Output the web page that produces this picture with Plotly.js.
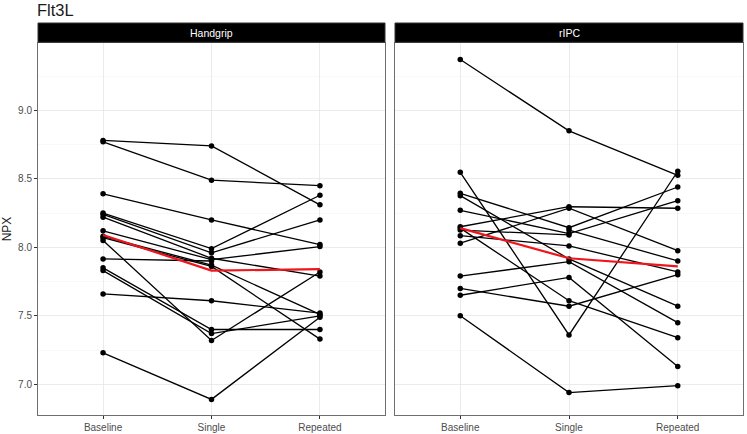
<!DOCTYPE html>
<html>
<head>
<meta charset="utf-8">
<script src="https://cdn.plot.ly/plotly-3.0.1.min.js"></script>
<style>
  html, body { margin: 0; padding: 0; background: #fff; }
  #chart { width: 747px; height: 434px; }
</style>
</head>
<body>
<div id="chart"></div>
<script>
const timepoints = ["Baseline", "Single", "Repeated"];
const panelNames = ["Handgrip", "rIPC"];

// one entry per subject
const handgripBaseline = [8.78, 8.77, 8.39, 8.25, 8.24, 8.22, 8.12, 8.08, 8.07, 8.05, 7.915, 7.85, 7.83, 7.66, 7.23];
const handgripSingle = [8.74, 8.49, 8.20, 7.99, 7.96, 7.92, 7.91, 7.87, 7.86, 7.32, 7.90, 7.40, 7.37, 7.61, 6.89];
const handgripRepeated = [8.31, 8.45, 8.02, 8.38, 8.20, 7.79, 8.005, 7.51, 7.33, 7.82, null, 7.40, 7.50, 7.52, 7.49];

const ripcBaseline = [9.37, 8.547, 8.394, 8.377, 8.27, 8.15, 8.14, 8.126, 8.085, 8.03, 7.79, 7.70, 7.65, 7.50, null];
const ripcSingle = [8.85, 7.36, 8.143, 7.915, 8.10, 8.296, 7.61, 8.09, 8.01, 8.285, 7.895, 7.57, 7.78, 6.94, 8.126];
const ripcRepeated = [8.525, 8.555, 8.44, 7.57, 8.34, 8.285, 7.34, null, 7.82, 7.975, 7.45, 7.80, 7.13, 6.99, 7.90];

// group means (red lines)
const handgripMean = [8.09, 7.83, 7.84];
const ripcMean = [8.14, 7.92, 7.86];

const yTicks = [7.0, 7.5, 8.0, 8.5, 9.0];

function subjectTraces(base, single, repeated, xa, ya) {
  return base.map((b, i) => ({
    x: timepoints,
    y: [b, single[i], repeated[i]],
    xaxis: xa,
    yaxis: ya,
    mode: "lines+markers",
    type: "scatter",
    line: { color: "#000000", width: 1.3 },
    marker: { color: "#000000", size: 5.5 },
    hoverinfo: "skip",
    showlegend: false,
  }));
}

function meanTrace(values, xa, ya) {
  return {
    x: timepoints,
    y: values,
    xaxis: xa,
    yaxis: ya,
    mode: "lines",
    type: "scatter",
    line: { color: "#F0151A", width: 2.2 },
    hoverinfo: "skip",
    showlegend: false,
  };
}

const data = [
  ...subjectTraces(handgripBaseline, handgripSingle, handgripRepeated, "x", "y"),
  ...subjectTraces(ripcBaseline, ripcSingle, ripcRepeated, "x2", "y2"),
  meanTrace(handgripMean, "x", "y"),
  meanTrace(ripcMean, "x2", "y2"),
];

const font = "Liberation Sans, Arial, sans-serif";
const leftDomain = [0, 0.4922];
const rightDomain = [0.5064, 1];

function xAxis(domain, anchor) {
  return {
    domain: domain,
    anchor: anchor,
    type: "category",
    categoryorder: "array",
    categoryarray: timepoints,
    range: [-0.6, 2.6],
    showgrid: true,
    gridcolor: "#E6E6E6",
    gridwidth: 0.8,
    zeroline: false,
    showline: true,
    mirror: true,
    linecolor: "#6E6E6E",
    linewidth: 1,
    ticks: "outside",
    ticklen: 3,
    tickcolor: "#333333",
    tickfont: { family: font, size: 10, color: "#4D4D4D" },
  };
}

function yAxis(anchor, showLabels) {
  return {
    domain: [0, 1],
    anchor: anchor,
    range: [6.776, 9.491],
    tickvals: yTicks,
    ticktext: yTicks.map((v) => v.toFixed(1)),
    showticklabels: showLabels,
    showgrid: true,
    gridcolor: "#E6E6E6",
    gridwidth: 0.8,
    minor: { tickvals: [6.75, 7.25, 7.75, 8.25, 8.75, 9.25], showgrid: true, gridcolor: "#F3F3F3", gridwidth: 0.6 },
    zeroline: false,
    showline: true,
    mirror: true,
    linecolor: "#6E6E6E",
    linewidth: 1,
    ticks: showLabels ? "outside" : "",
    ticklen: 3,
    tickcolor: "#333333",
    tickfont: { family: font, size: 10, color: "#4D4D4D" },
  };
}

const stripTop = 1 + 20 / 372;
const shapes = [leftDomain, rightDomain].map((d) => ({
  type: "rect",
  xref: "paper",
  yref: "paper",
  x0: d[0],
  x1: d[1],
  y0: 1.002,
  y1: stripTop,
  fillcolor: "#000000",
  line: { color: "#333333", width: 1 },
}));

const annotations = [leftDomain, rightDomain].map((d, i) => ({
  text: panelNames[i],
  xref: "paper",
  yref: "paper",
  x: (d[0] + d[1]) / 2,
  y: (1 + stripTop) / 2,
  xanchor: "center",
  yanchor: "middle",
  showarrow: false,
  font: { family: font, size: 10.5, color: "#FFFFFF" },
}));

const layout = {
  width: 747,
  height: 434,
  margin: { l: 38, r: 4, t: 43, b: 19 },
  paper_bgcolor: "#FFFFFF",
  plot_bgcolor: "#FFFFFF",
  title: {
    text: "Flt3L",
    x: 37 / 747,
    xanchor: "left",
    xref: "container",
    y: 1 - 10 / 434,
    yanchor: "middle",
    font: { family: font, size: 16.5, color: "#1A1A1A" },
  },
  xaxis: xAxis(leftDomain, "y"),
  yaxis: Object.assign(yAxis("x", true), {
    title: { text: "NPX", font: { family: font, size: 12, color: "#1A1A1A" }, standoff: 6 },
  }),
  xaxis2: xAxis(rightDomain, "y2"),
  yaxis2: yAxis("x2", false),
  shapes: shapes,
  annotations: annotations,
  showlegend: false,
};

Plotly.newPlot("chart", data, layout, { staticPlot: true, displayModeBar: false });
</script>
</body>
</html>
